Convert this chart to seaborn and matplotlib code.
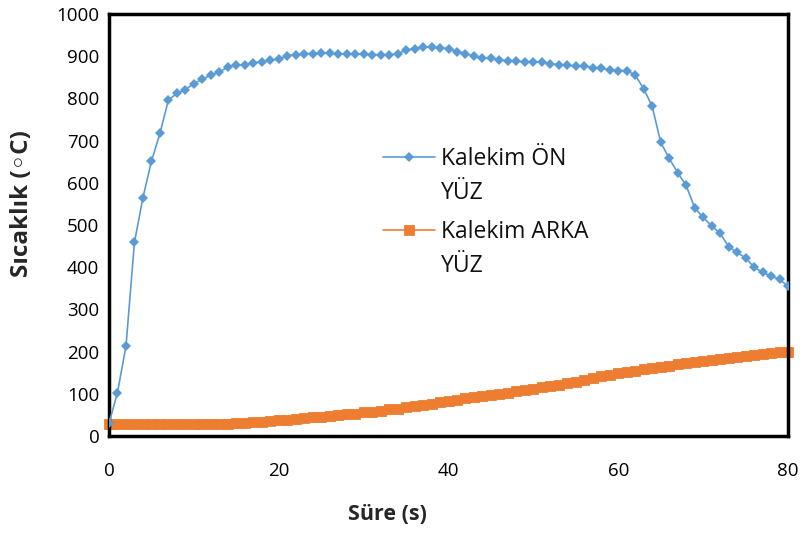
import matplotlib
matplotlib.use("Agg")
import matplotlib.pyplot as plt
import seaborn as sns
import pandas as pd

time_s = list(range(0, 81))
on_yuz = [30, 103, 213, 459, 565, 651, 717, 796, 812, 821,
          835, 846, 855, 863, 874, 879, 880, 885, 886, 890,
          893, 901, 904, 906, 906, 907, 907, 906, 905, 905,
          905, 904, 903, 903, 906, 914, 918, 922, 922, 920,
          918, 911, 906, 900, 895, 895, 891, 889, 888, 887,
          887, 886, 882, 880, 878, 877, 877, 873, 872, 867,
          866, 866, 855, 823, 781, 696, 658, 624, 594, 541,
          518, 498, 480, 449, 435, 422, 400, 388, 379, 371,
          355]
arka_yuz = [28, 28, 28, 28, 28, 28, 28, 28, 28, 28,
            28, 28, 28, 28, 29, 30, 31, 33, 34, 36,
            38, 39, 41, 42, 44, 45, 47, 49, 51, 53,
            56, 58, 60, 63, 65, 68, 71, 74, 77, 80,
            83, 86, 89, 92, 94, 97, 100, 103, 106, 109,
            112, 115, 118, 122, 125, 129, 133, 137, 141, 145,
            149, 152, 155, 158, 161, 164, 167, 170, 172, 175,
            178, 180, 182, 185, 187, 189, 191, 194, 196, 198,
            200]
series_first_line = ["Kalekim ÖN", "Kalekim ARKA"]
series_second_line = ["YÜZ", "YÜZ"]
x_ticks = [0, 20, 40, 60, 80]
y_ticks = list(range(0, 1001, 100))

sns.set_theme(style="white")
plt.rcParams['font.family'] = ['Open Sans', 'DejaVu Sans']

W, H = 801, 534
fig = plt.figure(figsize=(W / 100, H / 100), dpi=100)
ax = fig.add_axes([109 / W, (H - 436) / H, (788 - 109) / W, (436 - 14) / H])

df_on = pd.DataFrame({"t": time_s, "v": on_yuz})
df_arka = pd.DataFrame({"t": time_s, "v": arka_yuz})

blue = "#5B9BD5"
orange = "#ED7D31"
sns.lineplot(data=df_on, x="t", y="v", ax=ax, color=blue, linewidth=1.2,
             marker="D", markersize=5.5, markeredgewidth=0, markeredgecolor=blue,
             label=series_first_line[0], zorder=3)
sns.lineplot(data=df_arka, x="t", y="v", ax=ax, color=orange, linewidth=1.2,
             marker="s", markersize=7.8, markeredgewidth=0.6, markeredgecolor=orange,
             label=series_first_line[1], zorder=2, clip_on=False)

ax.set_xlim(0, 80)
ax.set_ylim(0, 1000)
ax.set_xticks(x_ticks)
ax.set_yticks(y_ticks)
ax.tick_params(axis="both", direction="out", length=5, width=2, color="black",
               labelsize=13.5, labelcolor="black")
ax.tick_params(axis="x", pad=14)
ax.tick_params(axis="y", pad=2)
for sp in ax.spines.values():
    sp.set_visible(True)
    sp.set_color("black")
    sp.set_linewidth(2.5)

ax.set_xlabel("Süre (s)", fontsize=15.5, fontweight="bold")
ax.set_ylabel("Sıcaklık (◦C)", fontsize=17.5, fontweight="bold")
ax.xaxis.label.set_va("center")
ax.yaxis.label.set_va("center")
ax.xaxis.set_label_coords((387 - 109) / 679, (436 - 514) / 422)
ax.yaxis.set_label_coords((22 - 109) / 679, (436 - 204) / 422)

leg_fs = 16.5
leg = ax.legend(loc="upper left",
                bbox_to_anchor=((383 - 109) / 679, (436 - 147) / 422),
                frameon=False, fontsize=leg_fs, handlelength=2.27,
                labelspacing=2.14, handletextpad=0.26, borderpad=0,
                borderaxespad=0)
for t in leg.get_texts():
    t.set_color("#111111")

fig.canvas.draw()
renderer = fig.canvas.get_renderer()
for t, second in zip(leg.get_texts(), series_second_line):
    bb = t.get_window_extent(renderer)
    fig.text(bb.x0 / W, (bb.y0 - 33.6) / H, second, ha="left", va="bottom",
             fontsize=leg_fs, color="#111111")

fig.savefig("out.png", dpi=100)
